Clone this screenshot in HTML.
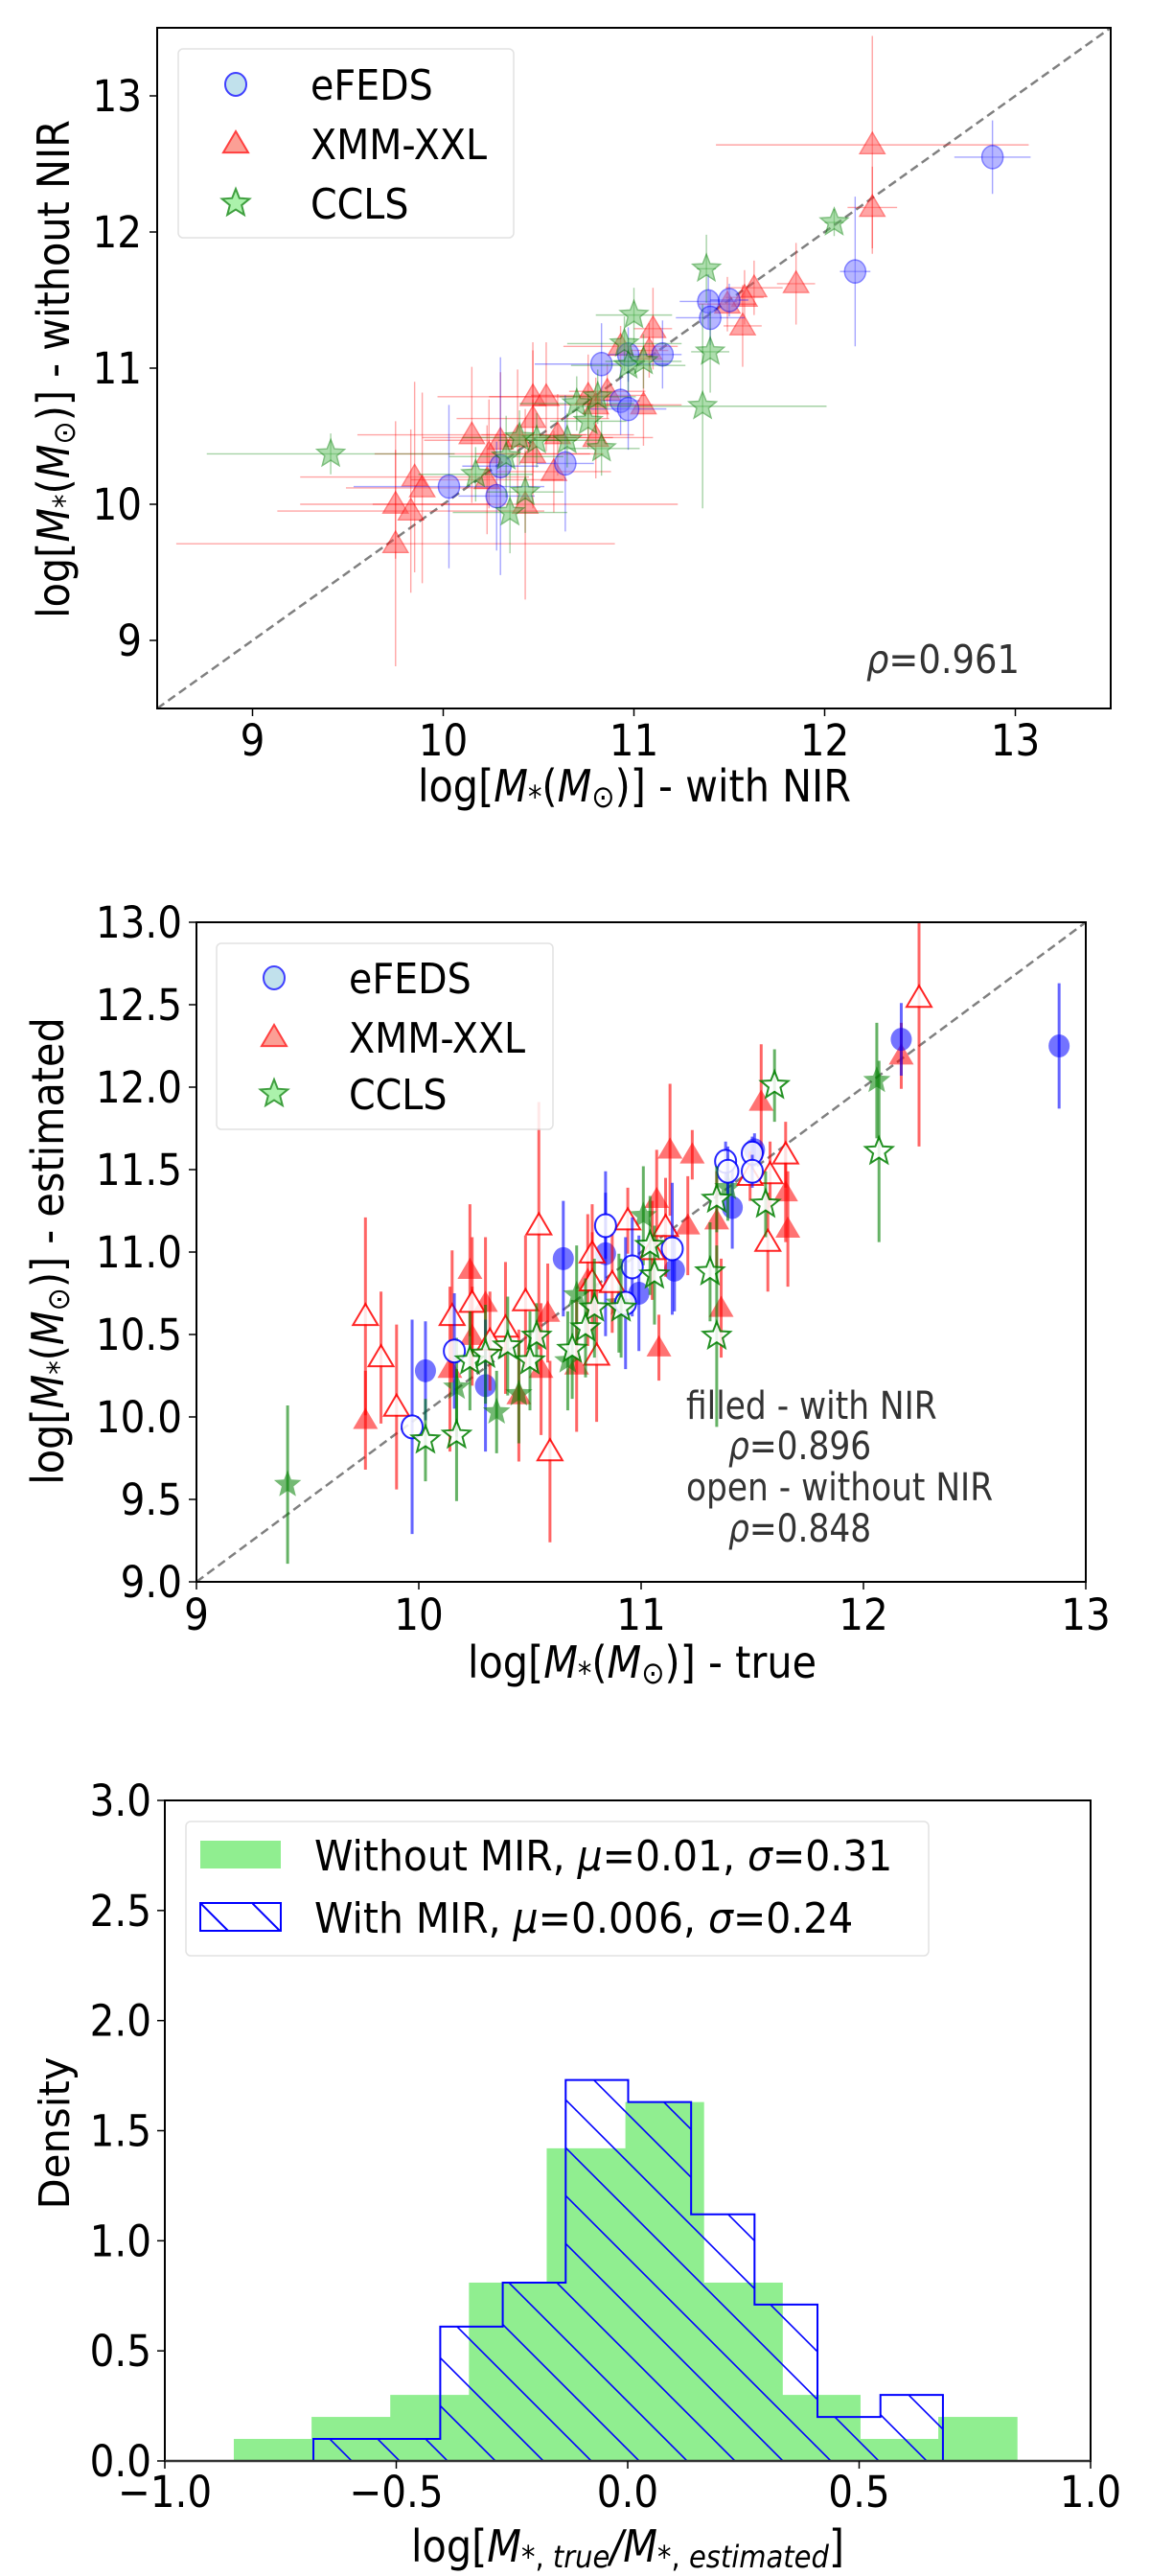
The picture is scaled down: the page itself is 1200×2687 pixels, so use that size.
<!DOCTYPE html>
<html><head><meta charset="utf-8"><style>
html,body{margin:0;padding:0;background:#fff;}
svg{display:block;font-family:"DejaVu Sans","Liberation Sans",sans-serif;}
</style></head><body>
<svg id="fig" width="1200" height="2687" viewBox="0 0 1200 2687" xmlns="http://www.w3.org/2000/svg">
<defs>
<pattern id="hatch" patternUnits="userSpaceOnUse" width="50" height="50">
<line x1="-5" y1="-5" x2="55" y2="55" stroke="#0000ff" stroke-width="1.6"/>
<line x1="-55" y1="-5" x2="5" y2="55" stroke="#0000ff" stroke-width="1.6"/>
<line x1="45" y1="-5" x2="105" y2="55" stroke="#0000ff" stroke-width="1.6"/>
</pattern>
<pattern id="hatchL" patternUnits="userSpaceOnUse" width="54" height="30" x="209" y="1985">
<line x1="0" y1="0" x2="30" y2="30" stroke="#0000ff" stroke-width="2"/>
</pattern>
</defs>
<g id="p1"></g>
<g id="p2"></g>
<g id="p3"></g>
</svg>
<script>
// ---------- Panel 1 data ----------
const p1EfedsX = [12.88,12.16,11.39,11.50,11.40,11.15,10.83,10.97,10.93,10.97,10.64,10.30,10.03,10.28];
const p1EfedsY = [12.55,11.71,11.49,11.50,11.37,11.10,11.03,11.10,10.76,10.70,10.30,10.28,10.13,10.06];
const p1EfedsXe = [0.2,0.08,0.15,0.1,0.18,0.1,0.35,0.1,0.1,0.2,0.15,0.2,0.5,0.2];
const p1EfedsYe = [0.27,0.55,0.2,0.12,0.2,0.25,0.3,0.2,0.25,0.3,0.5,0.8,0.6,0.4];
const p1XmmX = [12.25,12.25,11.85,11.63,11.58,11.49,11.57,11.10,10.93,11.08,11.05,10.47,10.54,10.76,10.80,10.86,10.47,10.15,10.30,10.39,10.60,10.80,10.24,10.47,10.58,9.85,9.89,10.23,9.75,9.83,10.43,9.75];
const p1XmmY = [12.64,12.18,11.62,11.59,11.52,11.47,11.31,11.29,11.16,11.13,10.73,10.79,10.79,10.80,10.73,10.83,10.63,10.51,10.47,10.49,10.51,10.49,10.37,10.37,10.24,10.20,10.12,10.18,10.00,9.95,10.00,9.71];
const p1XmmXe = [0.82,0.13,0.1,0.15,0.1,0.15,0.1,0.1,0.3,0.1,0.2,0.5,0.3,0.3,0.3,0.2,0.4,0.6,0.4,0.5,0.4,0.3,0.6,0.3,0.3,0.6,0.4,0.4,0.5,0.7,0.8,1.15];
const p1XmmYe = [0.8,0.3,0.3,0.2,0.2,0.2,0.3,0.3,0.15,0.2,0.3,0.4,0.4,0.3,0.2,0.2,0.5,0.5,0.5,0.5,0.3,0.3,0.4,0.4,0.3,0.7,0.7,0.4,0.4,0.6,0.7,0.9];
const p1CclsX = [12.05,11.38,11.00,11.40,10.95,10.97,11.05,11.36,10.70,10.81,10.76,10.65,10.49,10.40,10.83,9.41,10.33,10.17,10.43,10.35];
const p1CclsY = [12.07,11.73,11.39,11.12,11.18,11.02,11.05,10.72,10.74,10.79,10.61,10.47,10.47,10.49,10.41,10.37,10.35,10.22,10.09,9.94];
const p1CclsXe = [0.05,0.05,0.2,0.1,0.3,0.3,0.2,0.65,0.3,0.2,0.2,0.2,0.2,0.3,0.2,0.65,0.3,0.3,0.2,0.3];
const p1CclsYe = [0.1,0.25,0.2,0.3,0.2,0.2,0.2,0.75,0.2,0.2,0.2,0.2,0.2,0.2,0.2,0.15,0.3,0.2,0.3,0.3];
const p1Ticks = [9,10,11,12,13];

// ---------- Panel 2 data ----------
const p2EfedsFX = [12.88,12.17,11.41,11.51,10.84,10.65,11.15,10.99,10.03,10.30];
const p2EfedsFY = [12.25,12.29,11.27,11.62,10.99,10.96,10.89,10.75,10.28,10.19];
const p2EfedsFE = [0.38,0.22,0.25,0.1,0.5,0.35,0.25,0.35,0.3,0.4];
const p2EfedsOX = [11.50,11.38,11.39,11.50,10.84,10.96,11.14,10.93,10.16,9.97];
const p2EfedsOY = [11.60,11.55,11.49,11.49,11.16,10.91,11.02,10.69,10.40,9.94];
const p2EfedsOE = [0.1,0.12,0.15,0.1,0.2,0.3,0.4,0.4,0.35,0.65];
const p2XmmFX = [11.54,11.13,11.23,11.65,11.66,11.34,11.21,11.07,10.23,10.30,10.58,11.36,11.08,10.24,10.14,9.76,10.55,10.71,10.45,10.76,12.17];
const p2XmmFY = [11.91,11.62,11.59,11.36,11.14,11.19,11.16,11.32,10.89,10.69,10.63,10.66,10.42,10.49,10.29,9.98,10.29,10.31,10.13,10.83,12.19];
const p2XmmFE = [0.35,0.4,0.15,0.3,0.35,0.3,0.3,0.3,0.4,0.4,0.3,0.3,0.2,0.3,0.5,0.3,0.4,0.4,0.4,0.4,0.2];
const p2XmmOX = [12.25,11.65,11.58,11.49,11.57,10.94,11.11,11.05,10.54,10.78,10.78,10.87,10.24,10.48,10.39,9.76,9.83,9.90,10.15,10.80,10.59,10.32];
const p2XmmOY = [12.54,11.59,11.47,11.46,11.06,11.19,11.15,11.01,11.16,10.99,10.82,10.81,10.69,10.70,10.54,10.61,10.36,10.06,10.61,10.37,9.79,10.46];
const p2XmmOE = [0.9,0.2,0.2,0.15,0.3,0.2,0.3,0.3,0.75,0.3,0.3,0.3,0.4,0.4,0.4,0.6,0.4,0.5,0.4,0.4,0.55,0.3];
const p2CclsFX = [9.41,12.06,11.39,11.01,10.71,10.35,10.17,10.45,10.67,10.90];
const p2CclsFY = [9.59,12.04,11.39,11.22,10.74,10.03,10.18,10.14,10.34,10.69];
const p2CclsFE = [0.48,0.35,0.2,0.3,0.3,0.25,0.3,0.3,0.3,0.3];
const p2CclsOX = [11.60,12.07,11.56,11.34,11.31,11.34,11.06,11.04,10.79,10.91,10.75,10.69,10.53,10.50,10.40,10.23,10.30,10.03,10.17];
const p2CclsOY = [12.01,11.61,11.29,11.32,10.88,10.49,10.86,11.04,10.66,10.66,10.54,10.41,10.49,10.34,10.43,10.34,10.38,9.86,9.89];
const p2CclsOE = [0.22,0.55,0.2,0.2,0.3,0.55,0.3,0.3,0.3,0.3,0.3,0.3,0.2,0.3,0.3,0.3,0.3,0.25,0.4];
const p2XTicks = [9,10,11,12,13];
const p2YTicks = [9.0,9.5,10.0,10.5,11.0,11.5,12.0,12.5,13.0];

// ---------- Panel 3 data ----------
const histNoMirEdges = [-0.851,-0.683,-0.513,-0.343,-0.175,-0.005,0.164,0.334,0.502,0.671,0.841];
const histNoMirVals = [0.10,0.20,0.30,0.81,1.42,1.63,0.81,0.30,0.10,0.20];
const histMirEdges = [-0.679,-0.542,-0.405,-0.270,-0.134,0.001,0.137,0.274,0.410,0.546,0.681];
const histMirVals = [0.10,0.10,0.61,0.81,1.73,1.63,1.12,0.71,0.20,0.30];
const p3XTicks = [-1.0,-0.5,0.0,0.5,1.0];
const p3YTicks = [0.0,0.5,1.0,1.5,2.0,2.5,3.0];

const NS='http://www.w3.org/2000/svg';
const TICK=45, TSX=0.9, LAB=46, LSX=0.9, LEG=44, LEGSX=0.93;
function mk(tag, attrs, parent){
  const e=document.createElementNS(NS,tag);
  for(const k in attrs) e.setAttribute(k,attrs[k]);
  if(parent) parent.appendChild(e);
  return e;
}
function txt(parent, x, y, s, size, anchor, sx, fill, rot){
  const g=mk('g',{transform:'translate('+x+','+y+')'+(rot?' rotate('+rot+')':'')+' scale('+sx+',1)'},parent);
  const t=mk('text',{x:0,y:0,'font-size':size,'text-anchor':anchor,fill:fill||'#000'},g);
  t.innerHTML=s;
  return t;
}
function lin(d0,d1,r0,r1){return v=>r0+(v-d0)*(r1-r0)/(d1-d0);}
function marker(parent, type, cx, cy, fill, stroke, sw, op){
  let e;
  if(type==='c'){
    e=mk('ellipse',{cx:cx,cy:cy,rx:11,ry:12,fill:fill,stroke:stroke,'stroke-width':sw},parent);
  }else if(type==='t'){
    const r=13;
    e=mk('polygon',{points:(cx)+','+(cy-r)+' '+(cx-r)+','+(cy+r*0.7)+' '+(cx+r)+','+(cy+r*0.7),fill:fill,stroke:stroke,'stroke-width':sw},parent);
  }else{
    const R=15,r=6.5,pts=[];
    for(let i=0;i<10;i++){const a=-Math.PI/2+i*Math.PI/5;const rr=i%2?r:R;pts.push((cx+rr*Math.cos(a)).toFixed(1)+','+(cy+rr*Math.sin(a)).toFixed(1));}
    e=mk('polygon',{points:pts.join(' '),fill:fill,stroke:stroke,'stroke-width':sw},parent);
  }
  if(op!==undefined) e.setAttribute('opacity',op);
  return e;
}
const MLAB='log[<tspan font-style="italic">M</tspan><tspan font-size="0.7em" dy="6">*</tspan><tspan dy="-6">(</tspan><tspan font-style="italic">M</tspan><tspan font-size="0.7em" dy="6">⊙</tspan><tspan dy="-6">)]</tspan>';

// ============ Panel 1 ============
(function(){
  const P=document.getElementById('p1');
  const L=164,R=1159,T=29,B=739;
  const X=lin(8.5,13.5,L,R), Y=lin(8.5,13.5,B,T);
  const dl=mk('line',{x1:X(8.5),y1:Y(8.5),x2:X(13.5),y2:Y(13.5),stroke:'#808080','stroke-width':2.5,'stroke-dasharray':'9,5'},P);
  
  
  const sets=[
    {xs:p1XmmX,ys:p1XmmY,xe:p1XmmXe,ye:p1XmmYe,t:'t',c:'#ff0000',f:'#ff4d4d',n:'xmm-xxl-point'},
    {xs:p1EfedsX,ys:p1EfedsY,xe:p1EfedsXe,ye:p1EfedsYe,t:'c',c:'#0000ff',f:'#6f6fff',n:'efeds-point'},
    {xs:p1CclsX,ys:p1CclsY,xe:p1CclsXe,ye:p1CclsYe,t:'s',c:'#008000',f:'#5fbf5f',n:'ccls-point'}];
  sets.forEach(s=>{
    s.xs.forEach((v,i)=>{
      const g=mk('g',{},P);
      
      
      mk('line',{x1:X(v-s.xe[i]),x2:X(v+s.xe[i]),y1:Y(s.ys[i]),y2:Y(s.ys[i]),stroke:s.c,'stroke-width':1.4,opacity:0.35},g);
      mk('line',{x1:X(v),x2:X(v),y1:Y(s.ys[i]-s.ye[i]),y2:Y(s.ys[i]+s.ye[i]),stroke:s.c,'stroke-width':1.4,opacity:0.35},g);
      marker(g,s.t,X(v),Y(s.ys[i]),s.f,s.c,1.5,0.5);
    });
  });
  const fr=mk('rect',{x:L,y:T,width:R-L,height:B-T,fill:'none',stroke:'#000','stroke-width':2},P);
  
  
  p1Ticks.forEach(v=>{
    mk('line',{x1:X(v),x2:X(v),y1:B,y2:B+8,stroke:'#000','stroke-width':1.5},P);
    const t=txt(P,X(v),788,String(v),TICK,'middle',TSX);
    
    
    mk('line',{x1:L-8,x2:L,y1:Y(v),y2:Y(v),stroke:'#000','stroke-width':1.5},P);
    const u=txt(P,148,Y(v)+16,String(v),TICK,'end',TSX);
    
    
  });
  const xl=txt(P,662,836,MLAB+' - with NIR',LAB,'middle',LSX);
  
  
  const yl=txt(P,72,385,MLAB+' - without NIR',LAB,'middle',LSX,'#000',-90);
  
  
  const rho=txt(P,904,702,'<tspan font-style="italic">ρ</tspan>=0.961',41,'start',0.9,'#333');
  
  
  const lg=mk('g',{},P);
  
  
  mk('rect',{x:186,y:51,width:350,height:197,rx:5,fill:'#fff',stroke:'#ddd','stroke-width':1.5,opacity:0.85},lg);
  const ents=[['c','#add8e6','#0000ff','eFEDS',88],['t','#fa8072','#ff0000','XMM-XXL',150],['s','#90ee90','#008000','CCLS',212]];
  ents.forEach(e=>{
    const g=mk('g',{},lg);
    
    
    marker(g,e[0],246,e[4],e[1],e[2],2,0.75);
    txt(g,324,e[4]+16,e[3],LEG,'start',0.9);
  });
})();

// ============ Panel 2 ============
(function(){
  const P=document.getElementById('p2');
  const L=205,R=1133,T=962,B=1650;
  const X=lin(9,13,L,R), Y=lin(9,13,B,T);
  const dl=mk('line',{x1:X(9),y1:Y(9),x2:X(13),y2:Y(13),stroke:'#808080','stroke-width':2.5,'stroke-dasharray':'9,5'},P);
  
  
  const cp=mk('clipPath',{id:'clip2'},P);
  mk('rect',{x:L,y:T,width:R-L,height:B-T},cp);
  const D=mk('g',{'clip-path':'url(#clip2)'},P);
  const sets=[
    {xs:p2XmmFX,ys:p2XmmFY,e:p2XmmFE,t:'t',c:'#ff0000',open:false,n:'xmm-xxl-filled-point'},
    {xs:p2EfedsFX,ys:p2EfedsFY,e:p2EfedsFE,t:'c',c:'#0000ff',open:false,n:'efeds-filled-point'},
    {xs:p2CclsFX,ys:p2CclsFY,e:p2CclsFE,t:'s',c:'#008000',open:false,n:'ccls-filled-point'},
    {xs:p2XmmOX,ys:p2XmmOY,e:p2XmmOE,t:'t',c:'#ff0000',open:true,n:'xmm-xxl-open-point'},
    {xs:p2EfedsOX,ys:p2EfedsOY,e:p2EfedsOE,t:'c',c:'#0000ff',open:true,n:'efeds-open-point'},
    {xs:p2CclsOX,ys:p2CclsOY,e:p2CclsOE,t:'s',c:'#008000',open:true,n:'ccls-open-point'}];
  sets.forEach(s=>{
    s.xs.forEach((v,i)=>{
      const g=mk('g',{},D);
      
      
      mk('line',{x1:X(v),x2:X(v),y1:Y(s.ys[i]-s.e[i]),y2:Y(s.ys[i]+s.e[i]),stroke:s.c,'stroke-width':3,opacity:0.6},g);
      if(s.open) marker(g,s.t,X(v),Y(s.ys[i]),'#fff',s.c,2,0.85);
      else marker(g,s.t,X(v),Y(s.ys[i]),s.c,'none',0,0.55);
    });
  });
  const fr=mk('rect',{x:L,y:T,width:R-L,height:B-T,fill:'none',stroke:'#000','stroke-width':2},P);
  
  
  p2XTicks.forEach(v=>{
    mk('line',{x1:X(v),x2:X(v),y1:B,y2:B+8,stroke:'#000','stroke-width':1.5},P);
    const t=txt(P,X(v),1700,String(v),TICK,'middle',TSX);
    
    
  });
  p2YTicks.forEach(v=>{
    mk('line',{x1:L-8,x2:L,y1:Y(v),y2:Y(v),stroke:'#000','stroke-width':1.5},P);
    const u=txt(P,190,Y(v)+16,v.toFixed(1),TICK,'end',TSX);
    
    
  });
  const xl=txt(P,670,1750,MLAB+' - true',LAB,'middle',LSX);
  
  
  const yl=txt(P,66,1305,MLAB+' - estimated',LAB,'middle',LSX,'#000',-90);
  
  
  const an=[['filled - with NIR',716,1480],['<tspan font-style="italic">ρ</tspan>=0.896',760,1522],['open - without NIR',716,1565],['<tspan font-style="italic">ρ</tspan>=0.848',760,1608]];
  an.forEach(a=>{
    const t=txt(P,a[1],a[2],a[0],40,'start',0.86,'#333');
    
    
  });
  const lg=mk('g',{},P);
  
  
  mk('rect',{x:226,y:984,width:351,height:194,rx:5,fill:'#fff',stroke:'#ddd','stroke-width':1.5,opacity:0.85},lg);
  const ents=[['c','#add8e6','#0000ff','eFEDS',1020],['t','#fa8072','#ff0000','XMM-XXL',1082],['s','#90ee90','#008000','CCLS',1141]];
  ents.forEach(e=>{
    const g=mk('g',{},lg);
    
    
    marker(g,e[0],286,e[4],e[1],e[2],2,0.75);
    txt(g,364,e[4]+16,e[3],LEG,'start',0.9);
  });
})();

// ============ Panel 3 ============
(function(){
  const P=document.getElementById('p3');
  const L=172,R=1138,T=1878,B=2567;
  const X=lin(-1,1,L,R), Y=lin(0,3,B,T);
  histNoMirVals.forEach((v,i)=>{
    const r=mk('rect',{x:X(histNoMirEdges[i]),y:Y(v),width:X(histNoMirEdges[i+1])-X(histNoMirEdges[i])+0.5,height:B-Y(v),fill:'#90ee90'},P);
    
    
  });
  let d='M'+X(histMirEdges[0])+','+B;
  histMirVals.forEach((v,i)=>{d+=' L'+X(histMirEdges[i])+','+Y(v)+' L'+X(histMirEdges[i+1])+','+Y(v);});
  d+=' L'+X(histMirEdges[histMirEdges.length-1])+','+B+' Z';
  const st=mk('path',{d:d,fill:'url(#hatch)',stroke:'#0000ff','stroke-width':2},P);
  
  
  const fr=mk('rect',{x:L,y:T,width:R-L,height:B-T,fill:'none',stroke:'#000','stroke-width':2},P);
  
  
  mk('line',{x1:L,x2:R,y1:B,y2:B,stroke:'#333','stroke-width':2.5},P);
  p3XTicks.forEach(v=>{
    mk('line',{x1:X(v),x2:X(v),y1:B,y2:B+8,stroke:'#000','stroke-width':1.5},P);
    const t=txt(P,X(v),2615,v.toFixed(1).replace('-','−'),TICK,'middle',TSX);
    
    
  });
  p3YTicks.forEach(v=>{
    mk('line',{x1:L-8,x2:L,y1:Y(v),y2:Y(v),stroke:'#000','stroke-width':1.5},P);
    const u=txt(P,158,Y(v)+16,v.toFixed(1),TICK,'end',TSX);
    
    
  });
  const xl=txt(P,655,2672,'log[<tspan font-style="italic">M</tspan><tspan font-size="0.7em" dy="6">*, <tspan font-style="italic">true</tspan></tspan><tspan dy="-6" font-style="italic">/M</tspan><tspan font-size="0.7em" dy="6">*, <tspan font-style="italic">estimated</tspan></tspan><tspan dy="-6">]</tspan>',LAB,'middle',LSX);
  
  
  const yl=txt(P,72,2225,'Density',44,'middle',0.95,'#000',-90);
  
  
  const lg=mk('g',{},P);
  
  
  mk('rect',{x:194,y:1900,width:775,height:140,rx:5,fill:'#fff',stroke:'#ddd','stroke-width':1.5,opacity:0.85},lg);
  const e1=mk('g',{},lg);
  
  
  mk('rect',{x:209,y:1920,width:84,height:29,fill:'#90ee90'},e1);
  txt(e1,328,1951,'Without MIR, <tspan font-style="italic">μ</tspan>=0.01, <tspan font-style="italic">σ</tspan>=0.31',LEG,'start',LEGSX);
  const e2=mk('g',{},lg);
  
  
  mk('rect',{x:209,y:1985,width:84,height:29,fill:'url(#hatchL)',stroke:'#0000ff','stroke-width':2},e2);
  txt(e2,328,2016,'With MIR, <tspan font-style="italic">μ</tspan>=0.006, <tspan font-style="italic">σ</tspan>=0.24',LEG,'start',LEGSX);
})();
</script>
</body></html>
